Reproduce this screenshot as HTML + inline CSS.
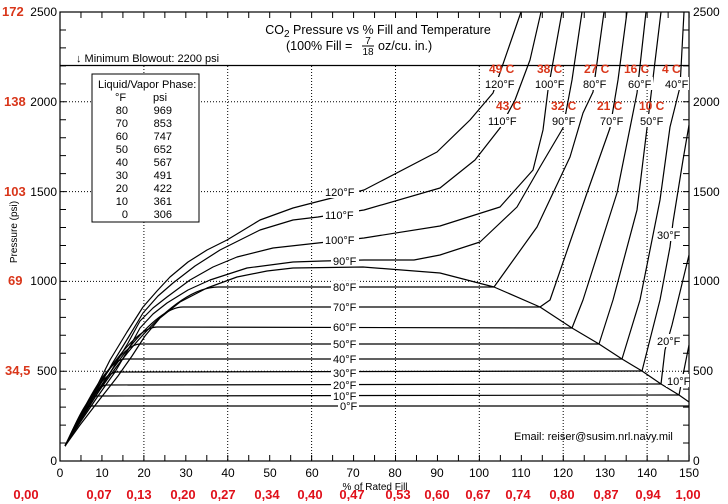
<!DOCTYPE html>
<html><head><meta charset="utf-8"><style>
html,body{margin:0;padding:0;background:#fff;}
svg{display:block;font-family:"Liberation Sans","DejaVu Sans",sans-serif;}
.t{font-size:11px;fill:#000;}
.r{font-size:12px;fill:#d9361a;font-weight:bold;}
.rb{font-size:13px;fill:#e0101a;font-weight:bold;}
.lab{font-size:11px;fill:#000;}
</style></head><body>
<svg width="728" height="504" viewBox="0 0 728 504" xmlns="http://www.w3.org/2000/svg">
<rect width="728" height="504" fill="#fff"/>
<g stroke="#000" stroke-width="1" stroke-dasharray="1 2" fill="none">
<line x1="60" y1="101.8" x2="689" y2="101.8"/>
<line x1="60" y1="191.6" x2="689" y2="191.6"/>
<line x1="60" y1="281.4" x2="689" y2="281.4"/>
<line x1="60" y1="371.2" x2="689" y2="371.2"/>
<line x1="143.9" y1="66" x2="143.9" y2="461"/>
<line x1="227.7" y1="66" x2="227.7" y2="461"/>
<line x1="311.6" y1="66" x2="311.6" y2="461"/>
<line x1="395.5" y1="66" x2="395.5" y2="461"/>
<line x1="479.3" y1="66" x2="479.3" y2="461"/>
<line x1="563.2" y1="66" x2="563.2" y2="461"/>
<line x1="647.1" y1="66" x2="647.1" y2="461"/>
</g>
<rect x="60" y="12" width="629" height="449" fill="none" stroke="#000" stroke-width="1.2"/>
<g stroke="#000" stroke-width="6" fill="none">
<line x1="63" y1="11.5" x2="63" y2="462" stroke-dasharray="1 16.96"/>
<line x1="686" y1="11.5" x2="686" y2="462" stroke-dasharray="1 16.96"/>
<line x1="59.5" y1="15" x2="690" y2="15" stroke-dasharray="1 19.97"/>
<line x1="59.5" y1="458" x2="690" y2="458" stroke-dasharray="1 19.97"/>
</g>
<line x1="60" y1="65.5" x2="689" y2="65.5" stroke="#000" stroke-width="1.2"/>
<g stroke="#000" stroke-width="1.2" fill="none" stroke-linejoin="round">
<path d="M65,446 C105,375 170,287 218,287 L494,287"/>
<path d="M65,446 C95,390 150,307 183,307 L540,307"/>
<path d="M65,446 C88,400 130,327 157,327 L572,328"/>
<path d="M65,446 C83,410 118,344 140,344 L599,344"/>
<path d="M65,446 C80,416 106,359 125,359 L622,359"/>
<path d="M65,446 C78,420 100,372 117,372 L642,371"/>
<path d="M65,446 C76,424 93,385 107,385 L661,384"/>
<path d="M65,446 C74,428 86,396 97,396 L679,395"/>
<path d="M65,446 C72,432 82,406 92,406 L689,406"/>
<polyline points="65,446 80,425 100,399 118,376 132,356 145,336 160,318 180,302 207,288 237,277 267,271 293,268 363,267 440,273 494,287 540,307 572,328 599,344 622,359 642,371 661,384 679,395 689,402"/>
<polyline points="65,446 79,424 98,396 115,372 128,350 140,328 153,314 167,303 188,290 210,280 247,268 293,262 323,261 364,260 414,260 440,255 480,242 517,207 540,167 563,128 572,80 582,12"/>
<polyline points="65,446 79,423 97,394 113,368 128,343 140,321 153,308 167,297 190,280 213,267 237,257 273,248 318,243 364,238 440,226 500,207 533,170 543,130 548,90 562,12"/>
<polyline points="65,446 78,422 96,392 112,364 128,338 143,313 158,296 173,283 195,266 220,250 260,230 293,220 318,217 364,210 440,188 475,160 500,128 515,100 530,60 541,12"/>
<polyline points="65,446 78,421 95,390 110,360 127,332 143,307 157,291 170,277 188,262 207,250 227,240 260,220 293,208 320,201 364,190 437,152 470,120 493,93 521,12"/>
<polyline points="494,287 537,227 570,157 583,113 593,92 604,12"/>
<polyline points="540,307 550,300 587,193 610,128 618,80 627,12"/>
<polyline points="572,328 583,300 617,193 637,93 646,12"/>
<polyline points="599,344 613,300 637,210 647,128 654,70 661,12"/>
<polyline points="622,359 640,300 660,200 670,127 680,87 684,12"/>
<polyline points="642,371 660,300 670,247 673,222 683,160 689,125"/>
<polyline points="661,384 665,350 672,325 689,255"/>
<polyline points="679,395 681,385 684,370 689,345"/>
</g>
<g class="lab">
<g fill="#fff" stroke="none">
<rect x="323" y="186" width="36" height="12"/><rect x="323" y="209" width="36" height="12"/>
<rect x="323" y="234" width="36" height="12"/><rect x="331" y="254" width="28" height="12"/>
<rect x="331" y="281" width="28" height="12"/><rect x="331" y="301" width="28" height="12"/>
<rect x="331" y="321" width="28" height="12"/><rect x="331" y="338" width="28" height="12"/>
<rect x="331" y="353" width="28" height="12"/><rect x="331" y="367" width="28" height="12"/>
<rect x="331" y="379" width="28" height="12"/><rect x="331" y="390" width="28" height="12"/>
<rect x="338" y="400" width="21" height="12"/>
<rect x="484" y="77" width="33" height="13"/><rect x="534" y="77" width="31" height="13"/>
<rect x="582" y="77" width="26" height="13"/><rect x="627" y="77" width="26" height="13"/><rect x="664" y="77" width="25" height="13"/>
<rect x="487" y="114" width="33" height="13"/><rect x="551" y="114" width="26" height="13"/>
<rect x="599" y="114" width="26" height="13"/><rect x="639" y="114" width="26" height="13"/>
<rect x="656" y="228" width="26" height="13"/><rect x="656" y="334" width="26" height="13"/><rect x="666" y="374" width="23" height="13"/>
</g>
<text x="325" y="196">120°F</text><text x="325" y="219">110°F</text>
<text x="325" y="244">100°F</text><text x="333" y="265">90°F</text>
<text x="333" y="291">80°F</text><text x="333" y="311">70°F</text>
<text x="333" y="331">60°F</text><text x="333" y="348">50°F</text>
<text x="333" y="363">40°F</text><text x="333" y="377">30°F</text>
<text x="333" y="389">20°F</text><text x="333" y="400">10°F</text>
<text x="340" y="410">0°F</text>
<text x="485" y="88">120°F</text><text x="535" y="88">100°F</text>
<text x="583" y="88">80°F</text><text x="628" y="88">60°F</text><text x="665" y="88">40°F</text>
<text x="488" y="125">110°F</text><text x="552" y="125">90°F</text>
<text x="600" y="125">70°F</text><text x="640" y="125">50°F</text>
<text x="657" y="239">30°F</text><text x="657" y="345">20°F</text><text x="667" y="385">10°F</text>
</g>
<g class="r">
<text x="489" y="73">49 C</text><text x="537" y="73">38 C</text><text x="584" y="73">27 C</text>
<text x="624" y="73">16 C</text><text x="662" y="73">4 C</text>
<text x="496" y="110">43 C</text><text x="551" y="110">32 C</text><text x="597" y="110">21 C</text><text x="639" y="110">10 C</text>
</g>
<rect x="92" y="74" width="107" height="148" fill="#fff" stroke="#000" stroke-width="1"/>
<g class="t">
<text x="98" y="88">Liquid/Vapor Phase:</text>
<text x="115" y="101">°F</text><text x="153" y="101">psi</text>
<g text-anchor="end">
<text x="128" y="114">80</text><text x="172" y="114">969</text>
<text x="128" y="127">70</text><text x="172" y="127">853</text>
<text x="128" y="140">60</text><text x="172" y="140">747</text>
<text x="128" y="153">50</text><text x="172" y="153">652</text>
<text x="128" y="166">40</text><text x="172" y="166">567</text>
<text x="128" y="179">30</text><text x="172" y="179">491</text>
<text x="128" y="192">20</text><text x="172" y="192">422</text>
<text x="128" y="205">10</text><text x="172" y="205">361</text>
<text x="128" y="218">0</text><text x="172" y="218">306</text>
</g>
</g>
<text class="t" x="378" y="34" text-anchor="middle" style="font-size:12.5px">CO<tspan dy="3" font-size="10">2</tspan><tspan dy="-3"> Pressure vs % Fill and Temperature</tspan></text>
<text class="t" x="286" y="50" style="font-size:12.5px">(100% Fill =</text>
<text class="t" x="368" y="44" text-anchor="middle" style="font-size:10px">7</text>
<line x1="362" y1="46" x2="374" y2="46" stroke="#000" stroke-width="1"/>
<text class="t" x="368" y="55" text-anchor="middle" style="font-size:10px">18</text>
<text class="t" x="378" y="50" style="font-size:12.5px">oz/cu. in.)</text>
<text class="t" x="76" y="62" style="font-size:11px">↓ Minimum Blowout: 2200 psi</text>
<text class="t" x="514" y="440">Email: reiser@susim.nrl.navy.mil</text>
<text class="t" x="375" y="490" text-anchor="middle" style="font-size:10px">% of Rated Fill</text>
<text class="t" transform="translate(17,232) rotate(-90)" text-anchor="middle" style="font-size:10px">Pressure (psi)</text>
<g class="t" text-anchor="end" style="font-size:12px">
<text x="57" y="16">2500</text><text x="57" y="106">2000</text><text x="57" y="196">1500</text>
<text x="57" y="285">1000</text><text x="57" y="375">500</text><text x="57" y="465">0</text>
</g>
<g class="r" style="font-size:13px">
<text x="2" y="16">172</text><text x="4" y="106">138</text><text x="4" y="196">103</text>
<text x="8" y="285">69</text><text x="5" y="375">34,5</text>
</g>
<g class="t" style="font-size:12px">
<text x="693" y="16">2500</text><text x="693" y="106">2000</text><text x="693" y="196">1500</text>
<text x="693" y="285">1000</text><text x="693" y="375">500</text><text x="693" y="465">0</text>
</g>
<g class="t" text-anchor="middle" style="font-size:12px">
<text x="60" y="477">0</text><text x="102" y="477">10</text><text x="144" y="477">20</text>
<text x="186" y="477">30</text><text x="228" y="477">40</text><text x="270" y="477">50</text>
<text x="312" y="477">60</text><text x="353" y="477">70</text><text x="395" y="477">80</text>
<text x="437" y="477">90</text><text x="479" y="477">100</text><text x="521" y="477">110</text>
<text x="563" y="477">120</text><text x="605" y="477">130</text><text x="647" y="477">140</text><text x="689" y="477">150</text>
</g>
<g class="rb" text-anchor="middle">
<text x="26" y="499">0,00</text><text x="99" y="499">0,07</text><text x="139" y="499">0,13</text>
<text x="183" y="499">0,20</text><text x="223" y="499">0,27</text><text x="267" y="499">0,34</text>
<text x="310" y="499">0,40</text><text x="352" y="499">0,47</text><text x="398" y="499">0,53</text>
<text x="437" y="499">0,60</text><text x="478" y="499">0,67</text><text x="518" y="499">0,74</text>
<text x="562" y="499">0,80</text><text x="606" y="499">0,87</text><text x="648" y="499">0,94</text><text x="688" y="499">1,00</text>
</g>
</svg>
</body></html>
